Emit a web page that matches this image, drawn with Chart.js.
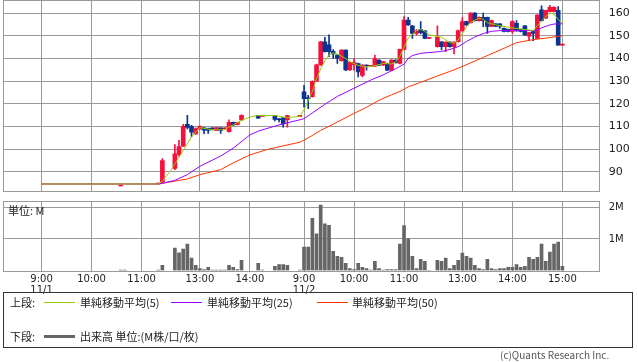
<!DOCTYPE html>
<html>
<head>
<meta charset="utf-8">
<script src="https://cdn.jsdelivr.net/npm/chart.js@4.4.0/dist/chart.umd.min.js"></script>
<style>
  body { margin: 0; background: #fff; }
  #wrap { position: relative; width: 638px; height: 362px; overflow: hidden; font-family: "DejaVu Sans", "Noto Sans CJK JP", sans-serif; color: #222; }
  canvas { position: absolute; left: 0; }
  #price { top: 0; }
  #volume { top: 196px; }
  .txt { position: absolute; font-size: 11px; white-space: nowrap; font-family: "Noto Sans CJK JP", "DejaVu Sans", sans-serif; line-height: 12px; }
  .ln { position: absolute; height: 1px; width: 31px; }
  #box { position: absolute; left: 3px; top: 292px; width: 628px; height: 54px; border: 1px solid #333; }
</style>
</head>
<body>
<div id="wrap">
  <canvas id="price" width="638" height="192"></canvas>
  <canvas id="volume" width="638" height="100"></canvas>
  <div class="txt" style="left:8px;top:204px;">単位: M</div>
  <div id="box"></div>
  <div class="txt" style="left:10px;top:296px;">上段:</div>
  <div class="ln" style="left:44px;top:302px;background:#99cc00;"></div>
  <div class="txt" style="left:80px;top:296px;">単純移動平均(5)</div>
  <div class="ln" style="left:171px;top:302px;background:#9900ff;"></div>
  <div class="txt" style="left:207px;top:296px;">単純移動平均(25)</div>
  <div class="ln" style="left:317px;top:302px;background:#ff3300;"></div>
  <div class="txt" style="left:352px;top:296px;">単純移動平均(50)</div>
  <div class="txt" style="left:10px;top:330px;">下段:</div>
  <div class="ln" style="left:44px;top:335px;height:3px;background:#666;"></div>
  <div class="txt" style="left:80px;top:330px;">出来高 単位:(M株/口/枚)</div>
  <div class="txt" style="left:500px;top:349px;color:#555;font-size:10px;">(c)Quants Research Inc.</div>
</div>
<script>
// bar slots (5 minute bars, counted from the left edge)
const slots = [28, 29, 37, 38,
  41, 42, 43, 44, 45, 46, 47, 48, 49, 50, 51, 52, 53, 54, 55, 56, 57,
  61, 62, 65, 66, 67, 68,
  71, 72, 73, 74, 75, 76, 77, 78, 79, 80, 81, 82, 83, 84, 85, 86, 87, 88, 89, 90,
  91, 92, 93, 94, 95, 96, 97, 98, 99, 100, 101, 102,
  104, 105, 106, 107, 108, 109, 110, 111, 112, 113, 114, 115, 116, 117, 118, 119, 120,
  121, 122, 123, 124, 125, 126, 127, 128, 129, 130, 131, 132, 133, 134];

const opens = [83.8, null, 84.7, 85.5,
  91.6, 97.7, 101.4, 111.0, 110.1, 106.8, 109.0, 109.5, 109.2, 109.4, 108.2, 109.4, 109.0, 107.8, 111.9, 110.8, 112.9,
  115.0, 114.5, 114.9, 113.4, 113.9, 113.0,
  114.5, 125.3, 122.8, 123.2, 130.0, 137.2, 147.4, 146.0, 143.2, 141.5, 139.0, 143.7, 135.0, 137.3, 137.8, 132.6, 137.1, 136.6, 136.6, 139.3,
  137.1, 137.8, 134.9, 139.3, 137.8, 144.0, 157.0, 154.4, 151.1, 152.9, 152.2, 148.9,
  145.2, 147.4, 145.2, 147.3, 145.2, 147.4, 152.3, 156.3, 155.8, 160.0, 156.7, 158.2, 158.2, 154.1, 155.3, 155.3, 153.3,
  152.9, 151.9, 155.5, 152.9, 154.4, 149.9, 151.9, 148.9, 161.5, 157.8, 160.7, 160.7, 161.2, 145.9];
const highs = [83.8, null, 84.7, 95.9,
  102.1, 103.9, 111.0, 115.0, 110.5, 109.5, 110.3, 109.6, 109.3, 109.5, 109.6, 109.5, 109.0, 113.0, 112.0, 112.0, 115.2,
  115.0, 114.5, 115.0, 113.5, 114.0, 115.0,
  114.5, 128.2, 123.8, 130.2, 137.5, 147.6, 149.3, 150.4, 143.9, 141.6, 143.9, 143.8, 138.5, 140.0, 138.0, 137.3, 137.2, 136.6, 141.5, 139.5,
  138.8, 138.0, 139.5, 139.4, 144.2, 158.5, 158.2, 154.5, 152.8, 156.3, 152.3, 148.9,
  154.4, 147.5, 147.4, 147.4, 147.4, 152.5, 158.0, 156.5, 160.2, 160.2, 158.4, 160.0, 158.3, 156.9, 155.4, 155.4, 153.5,
  153.0, 156.7, 156.7, 153.0, 154.5, 151.6, 152.0, 159.4, 163.2, 161.4, 163.5, 162.8, 162.9, 145.9];
const lows = [83.8, null, 84.7, 85.3,
  91.0, 97.0, 101.2, 109.0, 105.5, 106.5, 108.8, 106.9, 107.0, 108.5, 108.2, 107.0, 109.0, 107.5, 110.4, 110.7, 112.7,
  113.6, 114.5, 112.5, 112.0, 109.7, 109.7,
  114.5, 118.6, 117.9, 123.0, 129.8, 137.0, 142.8, 140.8, 140.1, 137.8, 138.8, 134.7, 134.8, 134.9, 131.9, 131.9, 134.9, 136.6, 136.4, 136.9,
  137.0, 134.7, 134.7, 138.0, 137.6, 143.8, 154.6, 148.9, 150.3, 150.9, 148.8, 148.9,
  145.0, 143.8, 143.0, 145.0, 142.0, 147.2, 152.0, 154.6, 155.6, 156.5, 156.5, 154.0, 151.1, 154.0, 154.0, 153.3, 151.7,
  151.7, 151.1, 151.9, 151.7, 150.2, 147.9, 147.9, 148.7, 156.5, 157.6, 160.5, 160.5, 145.9, 145.9];
const closes = [83.8, null, 84.7, 95.0,
  98.0, 101.2, 110.1, 109.6, 107.5, 109.1, 110.1, 108.4, 108.3, 108.6, 109.6, 108.3, 109.0, 111.9, 110.7, 111.9, 115.0,
  113.7, 114.5, 113.2, 113.0, 111.2, 114.9,
  114.5, 122.3, 122.3, 130.0, 137.2, 147.4, 143.0, 143.0, 142.0, 140.0, 143.7, 135.0, 138.3, 138.3, 134.1, 137.1, 136.7, 136.6, 140.0, 137.1,
  138.6, 134.9, 139.3, 138.3, 144.0, 157.0, 154.8, 151.1, 152.2, 151.4, 148.9, 148.9,
  149.3, 145.2, 147.3, 145.2, 147.3, 152.3, 156.3, 154.8, 160.0, 156.7, 158.2, 156.7, 154.1, 156.7, 154.1, 154.1, 151.9,
  151.9, 156.3, 152.6, 151.9, 150.4, 151.4, 151.1, 159.2, 156.7, 161.2, 162.6, 162.6, 145.9, 145.9];

// volume in millions
const volumes = [0.01, 0.01, 0.01, 0.16,
  0.71, 0.56, 0.68, 0.84, 0.39, 0.16, 0.06, 0.03, 0.10, 0.01, 0.01, 0.01, 0.01, 0.16, 0.10, 0.03, 0.32,
  0.23, 0.01, 0.13, 0.19, 0.19, 0.16,
  0.01, 0.74, 0.74, 1.65, 1.16, 2.07, 1.48, 1.43, 0.61, 0.45, 0.42, 0.23, 0.06, 0.03, 0.23, 0.10, 0.06, 0.01, 0.29, 0.06,
  0.01, 0.03, 0.03, 0.03, 0.84, 1.42, 1.00, 0.45, 0.06, 0.35, 0.29, 0.005,
  0.32, 0.29, 0.39, 0.06, 0.16, 0.32, 0.55, 0.45, 0.39, 0.16, 0.06, 0.03, 0.35, 0.06, 0.03, 0.06, 0.06,
  0.10, 0.10, 0.19, 0.10, 0.13, 0.42, 0.35, 0.42, 0.84, 0.29, 0.58, 0.84, 0.90, 0.13];

// moving averages: [slot, value]
const ma5 = [[9, 84.7], [37, 84.7], [38, 86.0], [40, 90.6], [43, 99.4], [45, 105.5], [47, 109.5], [50, 108.6], [53, 108.6],
  [54, 109.8], [57, 112.7], [59, 114.2], [61, 114.9], [65, 114.9], [68, 113.9], [71, 114.5], [72, 117.5], [73, 121.5],
  [74, 125.5], [75, 131.0], [76, 135.5], [77, 139.0], [78, 141.5], [79, 142.5], [80, 142.0], [82, 140.0], [83, 138.6],
  [85, 137.0], [87, 136.3], [89, 136.8], [91, 137.8], [93, 137.6], [94, 138.5], [95, 141.0], [96, 145.0], [97, 149.0],
  [99, 152.3], [100, 152.9], [101, 152.0], [102, 150.4], [105, 149.4], [107, 147.0], [108, 146.8], [109, 148.2],
  [110, 151.0], [111, 154.0], [112, 156.0], [114, 157.8], [115, 157.3], [116, 155.8], [118, 154.8], [121, 153.8],
  [124, 153.0], [126, 152.6], [127, 152.3], [128, 154.5], [129, 156.5], [130, 158.5], [131, 160.0], [132, 159.6],
  [133, 157.2], [134, 155.5]];
const ma25 = [[9, 84.7], [37, 84.7], [38, 85.0], [41, 86.3], [44, 88.8], [47, 92.5], [50, 95.2], [52, 97.0], [55, 100.5],
  [59, 106.3], [61, 108.0], [65, 110.2], [67, 111.2], [71, 113.0], [72, 113.5], [74, 116.0], [77, 119.8], [80, 123.3],
  [83, 126.0], [85, 127.8], [88, 130.5], [91, 132.8], [94, 135.5], [96, 137.5], [97, 140.0], [98, 141.3], [100, 142.3],
  [103, 142.8], [105, 143.1], [107, 144.0], [109, 145.2], [111, 147.5], [113, 149.5], [115, 151.0], [117, 152.0],
  [119, 152.3], [124, 152.3], [127, 152.3], [128, 152.6], [129, 153.5], [131, 154.8], [132, 155.2], [134, 155.3]];
const ma50 = [[9, 84.7], [37, 84.7], [38, 85.0], [44, 86.9], [47, 88.8], [52, 91.0], [55, 94.0], [59, 97.5], [63, 99.8],
  [67, 101.5], [71, 103.1], [73, 105.0], [76, 108.3], [80, 112.0], [83, 114.9], [87, 118.5], [90, 121.6], [93, 124.0],
  [95, 125.5], [97, 127.5], [100, 129.5], [104, 132.3], [107, 134.3], [110, 136.5], [115, 140.5], [120, 144.5],
  [123, 147.0], [127, 148.3], [130, 149.0], [133, 149.8], [134, 150.0]];

// x axis ticks
const tickSlots = [9, 21, 33, 47, 59, 72, 84, 96, 110, 122, 134];
const timeLabels = ['9:00', '10:00', '11:00', '13:00', '14:00', '9:00', '10:00', '11:00', '13:00', '14:00', '15:00'];
const dateLabels = ['11/1', '', '', '', '', '11/2', '', '', '', '', ''];
const priceTicks = [90, 100, 110, 120, 130, 140, 150, 160];
const volumeTicks = [1, 2];

const UP = '#f5103c';
const DOWN = '#0a3490';
const GRID = '#9a9a9a';

const frame = {
  id: 'frame',
  beforeDatasetsDraw(chart) {
    const { ctx, chartArea: a } = chart;
    ctx.save();
    ctx.strokeStyle = GRID;
    ctx.lineWidth = 1;
    ctx.strokeRect(Math.round(a.left) + 0.5, Math.round(a.top) + 0.5, Math.round(a.right - a.left), Math.round(a.bottom - a.top));
    ctx.restore();
  }
};

function xScale(showLabels) {
  return {
    type: 'linear',
    min: -0.25,
    max: 142.72,
    offset: false,
    afterBuildTicks: s => { s.ticks = tickSlots.map(v => ({ value: v })); },
    afterFit: s => { s.height = showLabels ? 25.5 : 0; s.paddingLeft = 0; s.paddingRight = 0; },
    grid: { color: GRID, drawTicks: false, offset: false },
    border: { display: false },
    ticks: {
      display: showLabels,
      autoSkip: false,
      maxRotation: 0,
      padding: 3,
      color: '#222',
      font: { family: 'DejaVu Sans', size: 10, lineHeight: 1.1 },
      callback: (v, i) => [timeLabels[i], dateLabels[i]]
    }
  };
}

function yFit(s) {
  s.width = 39.3;
  s.paddingTop = 0;
  s.paddingBottom = 0;
}

// only slots that have a candle
const candles = slots.map((s, i) => i).filter(i => opens[i] != null);
const colors = candles.map(i => closes[i] >= opens[i] ? UP : DOWN);

new Chart(document.getElementById('price'), {
  data: {
    datasets: [
      { type: 'line', data: ma5.map(p => ({ x: p[0], y: p[1] })), borderColor: '#99cc00', borderWidth: 1, pointRadius: 0 },
      { type: 'line', data: ma25.map(p => ({ x: p[0], y: p[1] })), borderColor: '#9900ff', borderWidth: 1, pointRadius: 0 },
      { type: 'line', data: ma50.map(p => ({ x: p[0], y: p[1] })), borderColor: '#ff3300', borderWidth: 1, pointRadius: 0 },
      { type: 'bar', data: candles.map(i => ({ x: slots[i], y: [opens[i], closes[i]] })),
        backgroundColor: colors, barThickness: 4, minBarLength: 1, grouped: false },
      { type: 'bar', data: candles.map(i => ({ x: slots[i], y: [lows[i], highs[i]] })),
        backgroundColor: colors, barThickness: 1, minBarLength: 1, grouped: false }
    ]
  },
  options: {
    responsive: false,
    animation: false,
    layout: { padding: { left: 3, top: 0, bottom: 1, right: 0 } },
    plugins: { legend: { display: false }, tooltip: { enabled: false } },
    scales: {
      x: xScale(false),
      y: {
        position: 'right',
        min: 81.6,
        max: 165.8,
        afterBuildTicks: s => { s.ticks = priceTicks.map(v => ({ value: v })); },
        afterFit: yFit,
        grid: { color: GRID, drawTicks: false },
        border: { display: false },
        ticks: { padding: 10, color: '#222', font: { family: 'DejaVu Sans', size: 11 } }
      }
    }
  },
  plugins: [frame]
});

new Chart(document.getElementById('volume'), {
  type: 'bar',
  data: {
    datasets: [
      { data: slots.map((s, i) => ({ x: s, y: volumes[i] })), backgroundColor: '#666666', barThickness: 3 }
    ]
  },
  options: {
    responsive: false,
    animation: false,
    layout: { padding: { left: 3, top: 5, bottom: 0, right: 0 } },
    plugins: { legend: { display: false }, tooltip: { enabled: false } },
    scales: {
      x: xScale(true),
      y: {
        position: 'right',
        min: 0,
        max: 2.2,
        afterBuildTicks: s => { s.ticks = volumeTicks.map(v => ({ value: v })); },
        afterFit: yFit,
        grid: { color: GRID, drawTicks: false },
        border: { display: false },
        ticks: { padding: 10, color: '#222', font: { family: 'DejaVu Sans', size: 10 }, callback: v => v + 'M' }
      }
    }
  },
  plugins: [frame]
});
</script>
</body>
</html>
